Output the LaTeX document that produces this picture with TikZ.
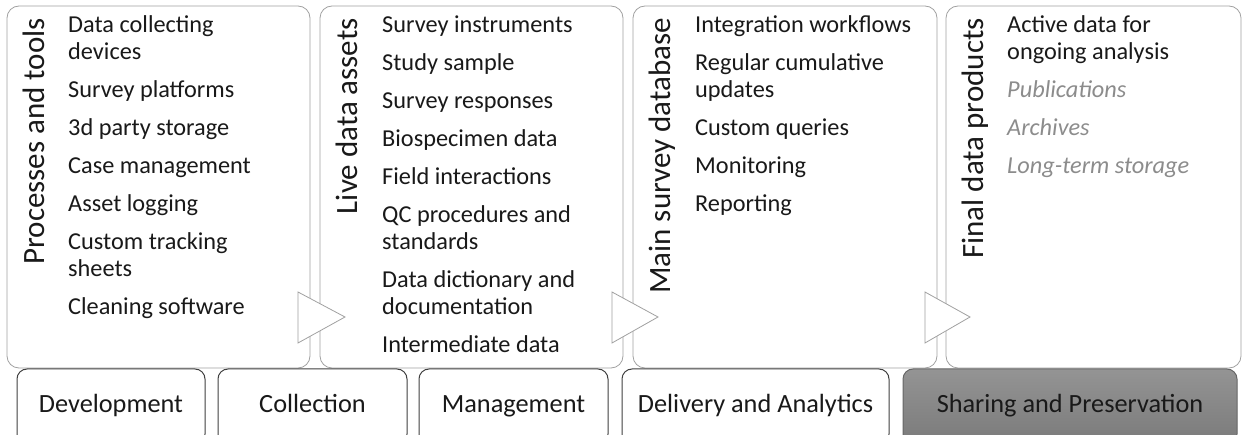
\documentclass[tikz,border=0pt]{standalone}
\usepackage{fontspec}
\setmainfont{Carlito}

\begin{document}
\begin{tikzpicture}[x=1pt, y=-1pt,
        stage/.style={draw=black!37, line width=0.8pt, rounded corners=12pt,
            fill=white, inner sep=0pt, minimum height=362pt},
        flowtip/.style={draw=black!37, line width=0.8pt, fill=white},
        heading/.style={rotate=90, anchor=base east, inner sep=0pt,
            text=black!90, font=\fontsize{31}{37}\selectfont},
        entry/.style={anchor=base west, inner sep=0pt, text=black!90,
            font=\fontsize{24.3}{27}\selectfont},
        later/.style={entry, text=black!45, font=\fontsize{24.3}{27}\selectfont\itshape},
        phase/.style={draw=black!75, line width=1pt, rounded corners=10pt, fill=white,
            minimum height=75pt, text height=18pt, text depth=5pt, text=black!90,
            font=\fontsize{26.3}{30}\selectfont}]
        \useasboundingbox (0, 0) rectangle (1243, 435);

        \node[stage, minimum width=303pt] (tools)  at (158.5, 187) {};
        \node[stage, minimum width=303pt] (assets) at (471.5, 187) {};
        \node[stage, minimum width=304pt] (db)     at (785.0, 187) {};
        \node[stage, minimum width=295pt] (final)  at (1093.5, 187) {};

        \draw[flowtip] (298, 292) -- (345, 317) -- (298, 343) -- cycle;
        \draw[flowtip] (612, 292) -- (658, 317) -- (612, 343) -- cycle;
        \draw[flowtip] (925, 292) -- (970, 317) -- (925, 343) -- cycle;

        \node[heading] (tools-title)  at (45,  18) {Processes and tools};
        \node[heading] (assets-title) at (357, 18) {Live data assets};
        \node[heading] (db-title)     at (670, 18) {Main survey database};
        \node[heading] (final-title)  at (983, 18) {Final data products};

        \foreach \t/\y [count=\i] in {Data collecting/33, devices/60,
                Survey platforms/98, 3d party storage/136, Case management/174,
                Asset logging/212, Custom tracking/250, sheets/277,
                Cleaning software/315}
            \node[entry] (tools-\i) at (68, \y) {\t};

        \foreach \t/\y [count=\i] in {Survey instruments/33, Study sample/71,
                Survey responses/109, Biospecimen data/147, Field interactions/185,
                QC procedures and/223, standards/250, Data dictionary and/288,
                documentation/315, Intermediate data/353}
            \node[entry] (assets-\i) at (382, \y) {\t};

        \foreach \t/\y [count=\i] in {Integration workflows/33, Regular cumulative/71,
                updates/98, Custom queries/136, Monitoring/174, Reporting/212}
            \node[entry] (db-\i) at (695, \y) {\t};

        \node[entry] (final-1) at (1007, 33) {Active data for};
        \node[entry] (final-2) at (1007, 60) {ongoing analysis};
        \foreach \t/\y [count=\i from 3] in {Publications/98, Archives/136,
                Long-term storage/174}
            \node[later] (final-\i) at (1007, \y) {\t};

        \node[phase, minimum width=188pt] (dev)  at (111.0, 406.5) {Development};
        \node[phase, minimum width=189pt] (coll) at (312.5, 406.5) {Collection};
        \node[phase, minimum width=189pt] (man)  at (513.5, 406.5) {Management};
        \node[phase, minimum width=267pt] (del)  at (755.5, 406.5) {Delivery and Analytics};
        \node[phase, minimum width=334pt, draw=black!60, top color=black!42,
            bottom color=black!52] (share) at (1070.0, 406.5) {Sharing and Preservation};
    \end{tikzpicture}
\end{document}
